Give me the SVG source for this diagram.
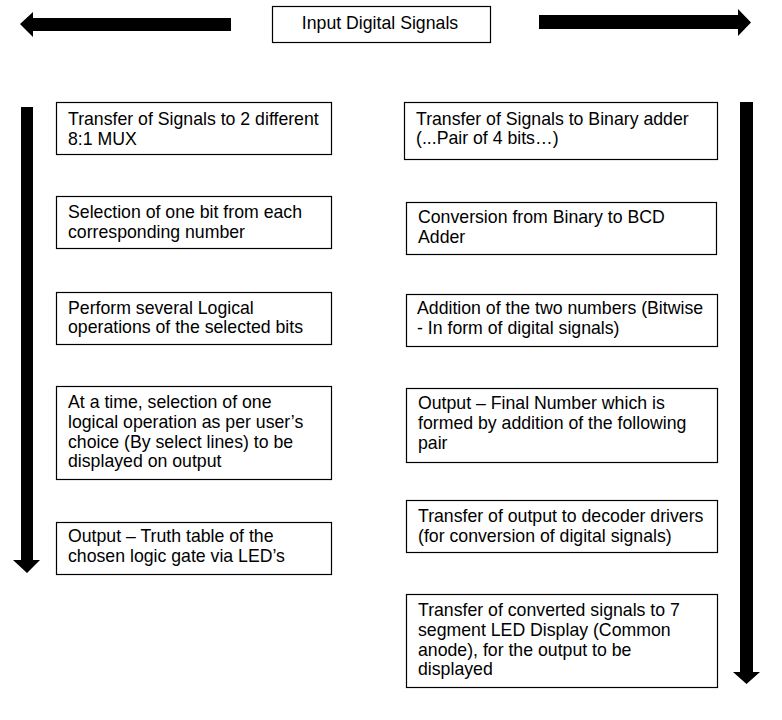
<svg xmlns="http://www.w3.org/2000/svg" width="782" height="720" viewBox="0 0 782 720">
<style>
.box{fill:#fff;stroke:#000;stroke-width:1.2}
text{font-family:"Liberation Sans",Arial,sans-serif;font-size:17.7px;fill:#000}
.arr{fill:#000}
</style>
<rect width="782" height="720" fill="#fff"/>
<g id="connectors">
<polygon class="arr" points="20,24 33,12 33,18 231,18 231,31 33,31 33,37"/>
<polygon class="arr" points="751,22.5 738,9 738,15 539,15 539,29 738,29 738,36"/>
<polygon class="arr" points="21,107 33,107 33,560 40,560 27,573 13,560 21,560"/>
<polygon class="arr" points="740,102 753,102 753,672 760,672 746.5,684 733,672 740,672"/>
</g>
<g id="input">
<rect class="box" x="272.5" y="6.5" width="218" height="36"/>
<text x="380" y="28.5" text-anchor="middle">Input Digital Signals</text>
</g>
<g id="l1">
<rect class="box" x="56.5" y="102.5" width="275" height="52"/>
<text x="68" y="125">Transfer of Signals to 2 different</text>
<text x="68" y="144.5">8:1 MUX</text>
</g>
<g id="l2">
<rect class="box" x="56.5" y="196.5" width="275" height="52"/>
<text x="68" y="218">Selection of one bit from each</text>
<text x="68" y="237.5">corresponding number</text>
</g>
<g id="l3">
<rect class="box" x="56.5" y="292.5" width="275" height="52"/>
<text x="68" y="313.5">Perform several Logical</text>
<text x="68" y="333">operations of the selected bits</text>
</g>
<g id="l4">
<rect class="box" x="56.5" y="386.5" width="275" height="93"/>
<text x="68" y="408">At a time, selection of one</text>
<text x="68" y="427.5">logical operation as per user’s</text>
<text x="68" y="447.5">choice (By select lines) to be</text>
<text x="68" y="467">displayed on output</text>
</g>
<g id="l5">
<rect class="box" x="56.5" y="522.5" width="275" height="52"/>
<text x="68" y="542">Output – Truth table of the</text>
<text x="68" y="562">chosen logic gate via LED’s</text>
</g>
<g id="r1">
<rect class="box" x="404.5" y="102.5" width="313" height="57"/>
<text x="416" y="124.5">Transfer of Signals to Binary adder</text>
<text x="416" y="143.5">(...Pair of 4 bits…)</text>
</g>
<g id="r2">
<rect class="box" x="406.5" y="202.5" width="310" height="52"/>
<text x="418" y="223">Conversion from Binary to BCD</text>
<text x="418" y="243">Adder</text>
</g>
<g id="r3">
<rect class="box" x="406.5" y="294.5" width="311" height="52"/>
<text x="417" y="314">Addition of the two numbers (Bitwise</text>
<text x="417" y="334">- In form of digital signals)</text>
</g>
<g id="r4">
<rect class="box" x="406.5" y="388.5" width="311" height="74"/>
<text x="418" y="409">Output – Final Number which is</text>
<text x="418" y="429">formed by addition of the following</text>
<text x="418" y="449">pair</text>
</g>
<g id="r5">
<rect class="box" x="406.5" y="500.5" width="311" height="52"/>
<text x="418" y="522">Transfer of output to decoder drivers</text>
<text x="418" y="542">(for conversion of digital signals)</text>
</g>
<g id="r6">
<rect class="box" x="406.5" y="594.5" width="311" height="93"/>
<text x="418" y="616">Transfer of converted signals to 7</text>
<text x="418" y="636">segment LED Display (Common</text>
<text x="418" y="656">anode), for the output to be</text>
<text x="418" y="675">displayed</text>
</g>
</svg>
